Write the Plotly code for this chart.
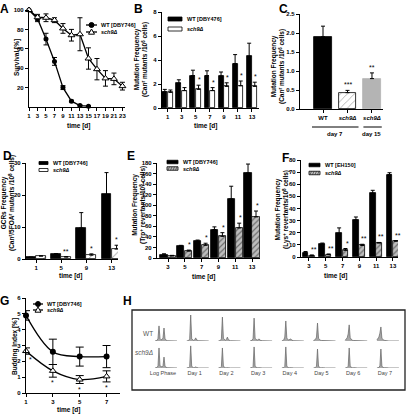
import plotly.graph_objects as go

W, H = 406, 414
FONT = "Liberation Sans, Arial, sans-serif"

# ---------------- DATA ----------------
# Panel A: survival
a_wt_days = [1, 3, 5, 7, 9, 11, 13, 15]
a_wt = [100, 91, 70, 47, 20, 6, 1.5, 0.8]
a_wt_err = [0, 3, 6, 4, 2, 1, 0.5, 0.5]
a_sch9_days = [1, 3, 5, 7, 9, 11, 13, 15, 17, 19, 21, 23]
a_sch9 = [100, 92.5, 92, 89.5, 81, 74, 75, 50, 39, 29.5, 29, 21.5]
a_sch9_err = [0, 3, 4, 2.5, 5, 6, 17, 11, 11, 8, 6, 4]
a_xticks = [1, 3, 5, 7, 9, 11, 13, 15, 17, 19, 21, 23]

# Panel B: Can r mutation frequency
b_days = [1, 3, 5, 7, 9, 11, 13]
b_wt = [1.35, 2.05, 2.7, 2.7, 2.65, 3.7, 4.3]
b_wt_err = [0.2, 0.3, 0.45, 0.4, 0.35, 0.75, 1.1]
b_sch9 = [1.3, 1.45, 1.55, 1.45, 1.8, 1.85, 1.8]
b_sch9_err = [0.2, 0.25, 0.35, 0.25, 0.3, 0.4, 0.35]
b_stars = ["", "", "*", "*", "*", "*", "*"]

# Panel C
c_labels = ["WT", "<i>sch9Δ</i>", "<i>sch9Δ</i>"]
c_vals = [1.9, 0.43, 0.8]
c_err = [0.28, 0.06, 0.15]
c_stars = ["", "***", "**"]
c_groups = ["day 7", "day 15"]

# Panel D: GCRs
d_days = [1, 5, 9, 13]
d_wt = [0.5, 1.5, 9.7, 20.2]
d_wt_err = [0.1, 0.2, 4.8, 6.8]
d_sch9 = [0.9, 0.6, 1.2, 3.1]
d_sch9_err = [0.1, 0.15, 0.4, 1.2]
d_stars = ["", "**", "*", "*"]

# Panel E: Trp+ revertants
e_days = [3, 5, 7, 9, 11, 13]
e_wt = [6, 22, 32, 54, 112, 161]
e_wt_err = [2, 2, 2, 5, 24, 17]
e_sch9 = [4, 13, 24, 41, 57, 78]
e_sch9_err = [1, 2, 4, 7, 9, 11]
e_stars = ["", "*", "*", "*", "*", "*"]

# Panel F: Lys+ revertants
f_days = [3, 5, 7, 9, 11, 13]
f_wt = [3.5, 10.5, 19.5, 30.5, 52.5, 68]
f_wt_err = [1, 1, 4.5, 2.5, 2.5, 1.5]
f_sch9 = [1.2, 2, 5.5, 9.5, 11.5, 13]
f_sch9_err = [0.5, 0.5, 1.5, 1, 0.5, 0.5]
f_stars = ["**", "**", "*", "**", "**", "**"]

# Panel G: budding index
g_days = [1, 3, 5, 7]
g_wt = [4.9, 2.6, 2.3, 2.3]
g_wt_err = [0.3, 0.8, 0.6, 0.7]
g_sch9 = [2.65, 1.4, 0.85, 1.05]
g_sch9_err = [0.2, 0.4, 0.25, 0.35]
g_stars = ["*", "*", "*", "*"]

# Panel H: DNA content histograms (relative counts on a shared bin grid)
h_bins = [0, 2, 3, 4, 5, 6, 7, 8, 9, 10, 12, 22]
h_labels = ["Log Phase", "Day 1", "Day 2", "Day 3", "Day 4", "Day 5", "Day 6", "Day 7"]
h_wt = [
    [0, 0.02, 0.10, 0.58, 0.10, 0.05, 0.05, 0.12, 0.50, 0.08, 0.01, 0],
    [0, 0.02, 0.08, 1.00, 0.08, 0.03, 0.02, 0.04, 0.12, 0.04, 0.01, 0],
    [0, 0.02, 0.08, 0.92, 0.10, 0.04, 0.03, 0.06, 0.15, 0.05, 0.01, 0],
    [0, 0.03, 0.10, 0.88, 0.10, 0.05, 0.03, 0.05, 0.08, 0.03, 0.01, 0],
    [0, 0.04, 0.15, 0.77, 0.12, 0.05, 0.04, 0.06, 0.08, 0.03, 0.01, 0],
    [0.02, 0.06, 0.15, 0.69, 0.10, 0.05, 0.03, 0.02, 0.02, 0.01, 0, 0],
    [0.03, 0.12, 0.27, 0.62, 0.12, 0.05, 0.03, 0.02, 0.02, 0.01, 0, 0],
    [0.04, 0.15, 0.30, 0.54, 0.10, 0.05, 0.03, 0.02, 0.01, 0.01, 0, 0],
]
h_sch9 = [
    [0, 0.02, 0.08, 0.77, 0.08, 0.04, 0.04, 0.08, 0.42, 0.06, 0.01, 0],
    [0, 0.02, 0.06, 0.85, 0.06, 0.02, 0.01, 0.02, 0.04, 0.02, 0, 0],
    [0, 0.02, 0.06, 0.77, 0.06, 0.02, 0.01, 0.01, 0.02, 0.01, 0, 0],
    [0, 0.02, 0.06, 0.81, 0.06, 0.02, 0.01, 0.01, 0.02, 0.01, 0, 0],
    [0, 0.02, 0.06, 0.81, 0.06, 0.02, 0.01, 0.01, 0.02, 0.01, 0, 0],
    [0, 0.02, 0.07, 0.73, 0.06, 0.02, 0.01, 0.01, 0.02, 0.01, 0, 0],
    [0, 0.02, 0.07, 0.77, 0.06, 0.02, 0.01, 0.01, 0.02, 0.01, 0, 0],
    [0, 0.02, 0.08, 0.73, 0.06, 0.02, 0.01, 0.01, 0.02, 0.01, 0, 0],
]
h_col_step = 31.7

# ---------------- HELPERS ----------------
def dx(a, b):
    return [a / W, b / W]

def dy(top, bottom):
    return [1 - bottom / H, 1 - top / H]

def px(p):
    return p / W

def py(p):
    return 1 - p / H

TICKFONT = dict(family=FONT, size=6, color="black", weight="bold")

def axis(domain, rng, tickvals=None, ticktext=None, anchor=None, **kw):
    d = dict(domain=domain, range=rng, showline=True, linecolor="black", linewidth=1.3,
             ticks="outside", ticklen=3, tickwidth=1, tickcolor="black",
             tickfont=TICKFONT, showgrid=False, zeroline=False, fixedrange=True,
             anchor=anchor, automargin=False, tickangle=0)
    if tickvals is not None:
        d["tickvals"] = tickvals
        d["ticktext"] = ticktext if ticktext is not None else [str(v) for v in tickvals]
    d.update(kw)
    return d

fig = go.Figure()
ann = []
shapes = []

def text(x, y, s, size=6, xanchor="center", yanchor="middle", angle=0, bold=True,
         color="black", xref="paper", yref="paper", italic=False, xshift=0, yshift=0):
    ann.append(dict(x=x, y=y, xref=xref, yref=yref, text=s, showarrow=False,
                    xanchor=xanchor, yanchor=yanchor, textangle=angle,
                    xshift=xshift, yshift=yshift,
                    font=dict(family=FONT, size=size, color=color,
                              weight="bold" if bold else "normal",
                              style="italic" if italic else "normal")))

def err_up(arr):
    return dict(type="data", array=arr, arrayminus=[0] * len(arr), symmetric=False,
                thickness=1, width=2, color="black")

def err_sym(arr, w=2.5):
    return dict(type="data", array=arr, thickness=1, width=w, color="black")

# ---------------- PANEL A ----------------
fig.add_trace(go.Scatter(x=a_wt_days, y=a_wt, error_y=err_sym(a_wt_err), mode="lines+markers",
                         line=dict(color="black", width=1.3),
                         marker=dict(symbol="circle", size=5, color="black"),
                         xaxis="x", yaxis="y", cliponaxis=False, showlegend=False))
fig.add_trace(go.Scatter(x=a_sch9_days, y=a_sch9, error_y=err_sym(a_sch9_err), mode="lines+markers",
                         line=dict(color="black", width=1.3),
                         marker=dict(symbol="triangle-up", size=6, color="white",
                                     line=dict(color="black", width=1)),
                         xaxis="x", yaxis="y", cliponaxis=False, showlegend=False))

# ---------------- PANEL B ----------------
fig.add_trace(go.Bar(x=b_days, y=b_wt, error_y=err_up(b_wt_err), offset=-0.75, width=0.7,
                     marker=dict(color="black", line=dict(color="black", width=0.8)),
                     xaxis="x2", yaxis="y2", showlegend=False))
fig.add_trace(go.Bar(x=b_days, y=b_sch9, error_y=err_up(b_sch9_err), offset=0.05, width=0.7,
                     marker=dict(color="white", line=dict(color="black", width=0.8)),
                     xaxis="x2", yaxis="y2", showlegend=False))
for d, v, e, s in zip(b_days, b_sch9, b_sch9_err, b_stars):
    if s:
        text(d + 0.5, v + e, s, size=7, yanchor="bottom", xref="x2", yref="y2", bold=False)

# ---------------- PANEL C ----------------
c_x = [0, 1, 2]
fig.add_trace(go.Bar(x=c_x, y=c_vals, error_y=err_up(c_err), width=0.72,
                     marker=dict(color=["black", "white", "#b4b4b4"],
                                 line=dict(color=["black", "black", "#b4b4b4"], width=0.8),
                                 pattern=dict(shape=["", "/", ""], fgcolor="black",
                                              bgcolor="white", size=5, solidity=0.15)),
                     xaxis="x3", yaxis="y3", showlegend=False))
for xv, v, e, s in zip(c_x, c_vals, c_err, c_stars):
    if s:
        text(xv, v + e, s, size=7, yanchor="bottom", xref="x3", yref="y3", bold=False)
shapes.append(dict(type="line", xref="x3", yref="paper", x0=-0.45, x1=1.45, y0=py(127), y1=py(127),
                   line=dict(color="black", width=1)))
shapes.append(dict(type="line", xref="x3", yref="paper", x0=1.65, x1=2.4, y0=py(127), y1=py(127),
                   line=dict(color="black", width=1)))
text(0.5, py(134), c_groups[0], xref="x3")
text(2.0, py(134), c_groups[1], xref="x3")

# ---------------- PANEL D ----------------
fig.add_trace(go.Bar(x=d_days, y=d_wt, error_y=err_up(d_wt_err), offset=-1.6, width=1.55,
                     marker=dict(color="black", line=dict(color="black", width=0.8)),
                     xaxis="x4", yaxis="y4", showlegend=False))
fig.add_trace(go.Bar(x=d_days, y=d_sch9, error_y=err_up(d_sch9_err), offset=0.0, width=1.55,
                     marker=dict(color="white", line=dict(color="black", width=0.8),
                                 pattern=dict(shape="/", fgcolor="black", bgcolor="white",
                                              size=8, solidity=0.1)),
                     xaxis="x4", yaxis="y4", showlegend=False))
for d, v, e, s in zip(d_days, d_sch9, d_sch9_err, d_stars):
    if s:
        text(d + 0.8, v + e, s, size=7, yanchor="bottom", xref="x4", yref="y4", bold=False)

# ---------------- PANEL E ----------------
HATCH = dict(shape="/", fgcolor="#222222", bgcolor="#bdbdbd", size=4, solidity=0.3)
fig.add_trace(go.Bar(x=e_days, y=e_wt, error_y=err_up(e_wt_err), offset=-0.9, width=0.85,
                     marker=dict(color="black", line=dict(color="black", width=0.8)),
                     xaxis="x5", yaxis="y5", showlegend=False))
fig.add_trace(go.Bar(x=e_days, y=e_sch9, error_y=err_up(e_sch9_err), offset=0.05, width=0.85,
                     marker=dict(color="#bdbdbd", line=dict(color="black", width=0.8), pattern=HATCH),
                     xaxis="x5", yaxis="y5", showlegend=False))
for d, v, e, s in zip(e_days, e_sch9, e_sch9_err, e_stars):
    if s:
        text(d + 0.6, v + e, s, size=7, yanchor="bottom", xref="x5", yref="y5", bold=False)

# ---------------- PANEL F ----------------
fig.add_trace(go.Bar(x=f_days, y=f_wt, error_y=err_up(f_wt_err), offset=-0.75, width=0.68,
                     marker=dict(color="black", line=dict(color="black", width=0.8)),
                     xaxis="x6", yaxis="y6", showlegend=False))
fig.add_trace(go.Bar(x=f_days, y=f_sch9, error_y=err_up(f_sch9_err), offset=0.0, width=0.68,
                     marker=dict(color="#bdbdbd", line=dict(color="black", width=0.8), pattern=HATCH),
                     xaxis="x6", yaxis="y6", showlegend=False))
for d, v, e, s in zip(f_days, f_sch9, f_sch9_err, f_stars):
    if s:
        text(d + 0.6, v + e, s, size=7, yanchor="bottom", xref="x6", yref="y6", bold=False)

# ---------------- PANEL G ----------------
fig.add_trace(go.Scatter(x=g_days, y=g_wt, error_y=err_sym(g_wt_err, 4), mode="lines+markers",
                         line=dict(color="black", width=1.3, shape="spline", smoothing=1.0),
                         marker=dict(symbol="circle", size=6, color="black"),
                         xaxis="x7", yaxis="y7", cliponaxis=False, showlegend=False))
fig.add_trace(go.Scatter(x=g_days, y=g_sch9, error_y=err_sym(g_sch9_err, 4), mode="lines+markers",
                         line=dict(color="black", width=1.3, shape="spline", smoothing=1.0),
                         marker=dict(symbol="triangle-up", size=6, color="white",
                                     line=dict(color="black", width=1)),
                         xaxis="x7", yaxis="y7", cliponaxis=False, showlegend=False))
for i, (d, v, e, s) in enumerate(zip(g_days, g_sch9, g_sch9_err, g_stars)):
    if s:
        text(d, v - e, s, size=7, yanchor="top", xref="x7", yref="y7", bold=False,
             xshift=4 if i == 0 else 0)

# ---------------- PANEL H ----------------
for i, (hw, hs) in enumerate(zip(h_wt, h_sch9)):
    xs = [i * h_col_step + b for b in h_bins]
    fig.add_trace(go.Scatter(x=xs, y=hw, mode="lines", fill="tozeroy",
                             line=dict(color="#6e6e6e", width=0.8), fillcolor="#a8a8a8",
                             xaxis="x8", yaxis="y8", showlegend=False))
    fig.add_trace(go.Scatter(x=xs, y=hs, mode="lines", fill="tozeroy",
                             line=dict(color="#6e6e6e", width=0.8), fillcolor="#a8a8a8",
                             xaxis="x9", yaxis="y9", showlegend=False))
shapes.append(dict(type="rect", xref="paper", yref="paper", x0=px(132), x1=px(405),
                   y0=py(390), y1=py(310), line=dict(color="#222222", width=1.3)))
text(px(148), py(333), "WT", size=6.5, bold=False, color="#555555")
text(px(144), py(352), "sch9Δ", size=6.5, bold=False, color="#555555", italic=True)

# ---------------- AXES ----------------
noax = dict(showline=False, ticks="", showticklabels=False, showgrid=False, zeroline=False,
            fixedrange=True, automargin=False)
fig.update_layout(
    xaxis=axis(dx(29, 125), [1, 23.6], a_xticks, anchor="y"),
    yaxis=axis(dy(10, 107), [0, 100], [20, 40, 60, 80, 100], anchor="x"),
    xaxis2=axis(dx(162, 259), [0.2, 14], b_days, anchor="y2"),
    yaxis2=axis(dy(12, 108), [0, 8], [0, 2, 4, 6, 8], anchor="x2"),
    xaxis3=axis(dx(300, 383), [-0.94, 2.45], c_x, c_labels, anchor="y3"),
    yaxis3=axis(dy(14, 109), [0, 2.5], [0, 0.5, 1.0, 1.5, 2.0, 2.5],
                ["0.0", "0.5", "1.0", "1.5", "2.0", "2.5"], anchor="x3"),
    xaxis4=axis(dx(26, 118), [-0.6, 14.0], d_days, anchor="y4"),
    yaxis4=axis(dy(163, 259), [0, 30], [0, 10, 20, 30], anchor="x4"),
    xaxis5=axis(dx(157, 260), [1.69, 13.95], e_days, anchor="y5"),
    yaxis5=axis(dy(163, 258), [0, 180], list(range(0, 181, 20)), anchor="x5"),
    xaxis6=axis(dx(301, 398), [2.05, 13.6], f_days, anchor="y6"),
    yaxis6=axis(dy(160, 257), [0, 80], list(range(0, 81, 10)), anchor="x6"),
    xaxis7=axis(dx(26, 120), [1, 8], g_days, anchor="y7"),
    yaxis7=axis(dy(298, 393), [0, 6], [0, 1, 2, 3, 4, 5, 6], anchor="x7"),
    xaxis8=dict(domain=dx(155, 405), range=[0, 250], anchor="y8", **noax),
    yaxis8=dict(domain=dy(315, 341), range=[0, 1], anchor="x8", **noax),
    xaxis9=dict(domain=dx(155, 405), range=[0, 250], anchor="y9",
                tickvals=[i * h_col_step + 8 for i in range(8)], ticktext=h_labels,
                showticklabels=True, ticks="", showline=False, showgrid=False, zeroline=False,
                fixedrange=True, automargin=False, tickangle=0,
                tickfont=dict(family=FONT, size=5.5, color="#444444")),
    yaxis9=dict(domain=dy(342, 368), range=[0, 1], anchor="x9", **noax),
)

# ---------------- AXIS TITLES ----------------
text(px(17), py(58), "Survival [%]", size=6.5, angle=-90)
text(px(141), py(60), "Mutation Frequency<br>(Can<sup>r</sup> mutants /10<sup>6</sup> cells)", size=6.5, angle=-90)
text(px(278), py(67), "Mutation Frequency<br>(Can<sup>r</sup> mutants /10<sup>6</sup> cells)", size=6.5, angle=-90)
text(px(8), py(203), "GCRs Frequency<br>(Can<sup>r</sup>/5FOA<sup>r</sup> mutants /10<sup>8</sup> cells)", size=6.5, angle=-90)
text(px(139), py(205), "Mutation Frequency<br>(Trp<sup>+</sup> revertants/10<sup>8</sup> cells)", size=6.5, angle=-90)
text(px(282), py(210), "Mutation Frequency<br>(Lys<sup>+</sup> revertants/10<sup>8</sup> cells)", size=6.5, angle=-90)
text(px(15), py(347), "Budding Index [%]", size=6.5, angle=-90)
for (xx, yy) in [(78, 126), (205, 126), (70, 276), (203, 277), (335, 276), (68, 410)]:
    text(px(xx), py(yy), "time [d]", size=6.5)

# ---------------- PANEL LETTERS ----------------
for letter, (xx, yy) in {"A": (4, 0), "B": (138, 0), "C": (283, 0), "D": (7, 147),
                         "E": (131, 147), "F": (285, 149), "G": (4, 292), "H": (127, 292)}.items():
    text(px(xx), py(yy), letter, size=12, yanchor="top")

# ---------------- LEGENDS ----------------
def leg_line(x0, x1, y, symbol, label):
    shapes.append(dict(type="line", xref="paper", yref="paper", x0=px(x0), x1=px(x1),
                       y0=py(y), y1=py(y), line=dict(color="black", width=1.3)))
    cx = (x0 + x1) / 2
    if symbol == "circle":
        shapes.append(dict(type="circle", xref="paper", yref="paper", x0=px(cx - 2.5), x1=px(cx + 2.5),
                           y0=py(y + 2.5), y1=py(y - 2.5), fillcolor="black", line=dict(color="black", width=1)))
    else:
        path = "M {} {} L {} {} L {} {} Z".format(px(cx - 3), py(y + 2.2), px(cx + 3), py(y + 2.2), px(cx), py(y - 3))
        shapes.append(dict(type="path", xref="paper", yref="paper", path=path, fillcolor="white",
                           line=dict(color="black", width=1)))
    text(px(x1 + 2), py(y), label, size=5.5, xanchor="left")

def leg_box(x0, x1, y, h, fill, label, pattern=None):
    shapes.append(dict(type="rect", xref="paper", yref="paper", x0=px(x0), x1=px(x1),
                       y0=py(y + h / 2), y1=py(y - h / 2), fillcolor=fill,
                       line=dict(color="black", width=0.8)))
    if pattern:
        n = int((x1 - x0) // 2.5)
        for k in range(n):
            xa = x0 + 1 + k * 2.5
            shapes.append(dict(type="line", xref="paper", yref="paper", x0=px(xa), x1=px(xa + 1.5),
                               y0=py(y + h / 2), y1=py(y - h / 2), line=dict(color="#222", width=0.6)))
    text(px(x1 + 3), py(y), label, size=5.5, xanchor="left")

leg_line(86, 97, 25, "circle", "WT [DBY746]")
leg_line(86, 97, 32, "triangle", "<i>sch9Δ</i>")
leg_box(168, 182, 19, 4, "black", "WT [DBY476]")
leg_box(168, 182, 29, 4, "white", "<i>sch9Δ</i>")
leg_box(39, 48, 163, 3, "black", "WT [DBY746]")
leg_box(39, 48, 170, 3, "white", "<i>sch9Δ</i>")
leg_box(167, 178, 162, 3.5, "black", "WT [DBY746]")
leg_box(167, 178, 168.5, 3.5, "#bdbdbd", "<i>sch9Δ</i>", pattern=True)
leg_box(309, 320, 165, 3.5, "black", "WT [EH150]")
leg_box(309, 320, 173, 3.5, "#bdbdbd", "<i>sch9Δ</i>", pattern=True)
leg_line(33, 43, 304, "circle", "WT [DBY746]")
leg_line(33, 43, 310, "triangle", "<i>sch9Δ</i>")

fig.update_layout(
    width=W, height=H, autosize=False,
    margin=dict(l=0, r=0, t=0, b=0),
    paper_bgcolor="white", plot_bgcolor="white",
    barmode="overlay", bargap=0,
    annotations=ann, shapes=shapes,
    font=dict(family=FONT, color="black"),
)
fig.write_html("out.html", config={"displayModeBar": False},
               post_script="document.body.style.margin='0px';document.body.style.overflow='hidden';")
